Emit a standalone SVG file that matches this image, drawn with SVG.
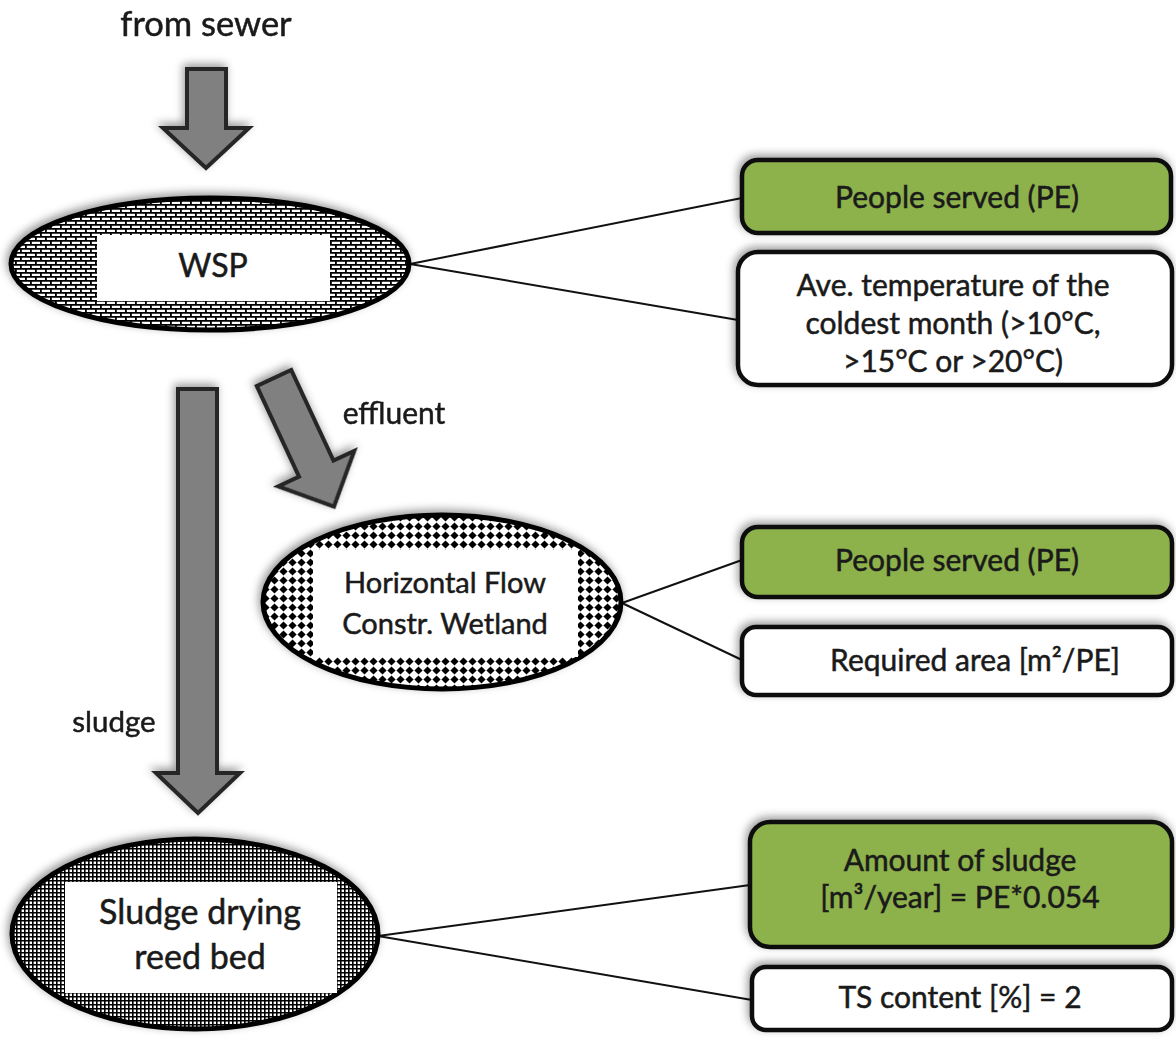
<svg xmlns="http://www.w3.org/2000/svg" width="1176" height="1039" viewBox="0 0 1176 1039">
  <defs>
    <style>
      .lbl { font-family: Lato, "Liberation Sans", sans-serif; fill: #1a1a1a; stroke: #1a1a1a; stroke-width: 0.5; text-anchor: middle; }
      .box-green { fill: #8db14b; stroke: #111; stroke-width: 4.5; }
      .box-white { fill: #fff; stroke: #111; stroke-width: 4.5; }
      .node-ring { stroke: #000; stroke-width: 5; }
      .arrow { fill: #808080; stroke: #262626; stroke-width: 4; stroke-linejoin: miter; }
      .link { stroke: #111; stroke-width: 2; fill: none; }
    </style>
    <filter id="shadow" x="-20%" y="-20%" width="140%" height="140%">
      <feGaussianBlur in="SourceAlpha" stdDeviation="4"/>
      <feOffset dx="-2" dy="-3" result="blur"/>
      <feFlood flood-color="#000" flood-opacity="0.4"/>
      <feComposite in2="blur" operator="in"/>
      <feMerge>
        <feMergeNode/>
        <feMergeNode in="SourceGraphic"/>
      </feMerge>
    </filter>
    <!-- brick fill -->
    <pattern id="brick" patternUnits="userSpaceOnUse" width="10" height="8">
      <rect width="10" height="8" fill="#fff"/>
      <path d="M0 0.9H10 M0 4.9H10 M0.9 0V4.9 M5.9 4.9V8" stroke="#000" stroke-width="1.8"/>
    </pattern>
    <!-- diamond dot fill -->
    <pattern id="dots" patternUnits="userSpaceOnUse" width="9" height="9">
      <rect width="9" height="9" fill="#fff"/>
      <path d="M4.5 0.4 L8.6 4.5 L4.5 8.6 L0.4 4.5 Z" fill="#000"/>
    </pattern>
    <!-- fine grid fill -->
    <pattern id="grid" patternUnits="userSpaceOnUse" width="4" height="4">
      <rect width="4" height="4" fill="#fff"/>
      <path d="M0 0.8H4 M0.8 0V4" stroke="#000" stroke-width="1.6"/>
    </pattern>
  </defs>

  <rect width="1176" height="1039" fill="#fff"/>

  <!-- connectors -->
  <g id="connectors">
    <line class="link" x1="410" y1="264" x2="742" y2="198"/>
    <line class="link" x1="410" y1="264" x2="738" y2="320"/>
    <line class="link" x1="622" y1="603" x2="742" y2="560"/>
    <line class="link" x1="622" y1="603" x2="742" y2="660"/>
    <line class="link" x1="378" y1="936" x2="750" y2="885"/>
    <line class="link" x1="378" y1="936" x2="752" y2="1000"/>

    <g filter="url(#shadow)">
      <!-- inflow arrow -->
      <path class="arrow" d="M187 69 H226 V128 H249 L206 168 L163 128 H187 Z"/>
      <!-- sludge arrow -->
      <path class="arrow" d="M178 389 H217 V773 H240 L198 813 L156 773 H178 Z"/>
      <!-- effluent arrow -->
      <path class="arrow" transform="translate(274 378) rotate(-25)" d="M-19 0 H19 V100 H42 L0 142 L-42 100 H-19 Z"/>
    </g>

    <text class="lbl" x="206" y="36" font-size="34.5">from sewer</text>
    <text class="lbl" x="394" y="424" font-size="30">effluent</text>
    <text class="lbl" x="114" y="732" font-size="29.5">sludge</text>
  </g>

  <!-- WSP -->
  <g id="wsp">
    <ellipse class="node-ring" cx="210" cy="264" rx="199" ry="66" fill="url(#brick)" filter="url(#shadow)"/>
    <rect x="97" y="235" width="233" height="66" fill="#fff"/>
    <text class="lbl" x="213" y="277" font-size="32">WSP</text>
  </g>

  <!-- Horizontal flow constructed wetland -->
  <g id="hfcw">
    <ellipse class="node-ring" cx="442" cy="602" rx="179" ry="87" fill="url(#dots)" filter="url(#shadow)"/>
    <rect x="313" y="550" width="265" height="107" fill="#fff"/>
    <text class="lbl" x="445" y="593" font-size="29">Horizontal Flow</text>
    <text class="lbl" x="445" y="634" font-size="29">Constr. Wetland</text>
  </g>

  <!-- Sludge drying reed bed -->
  <g id="sdrb">
    <ellipse class="node-ring" cx="195" cy="934" rx="183" ry="95" fill="url(#grid)" filter="url(#shadow)"/>
    <rect x="65" y="882" width="272" height="111" fill="#fff"/>
    <text class="lbl" x="200" y="924" font-size="34">Sludge drying</text>
    <text class="lbl" x="200" y="969" font-size="34">reed bed</text>
  </g>

  <!-- WSP parameters -->
  <g id="wsp-pe">
    <rect class="box-green" x="742" y="160" width="429" height="73" rx="16" filter="url(#shadow)"/>
    <text class="lbl" x="957" y="208" font-size="30">People served (PE)</text>
  </g>
  <g id="wsp-temp">
    <rect class="box-white" x="738" y="252" width="434" height="133" rx="20" filter="url(#shadow)"/>
    <text class="lbl" x="953" y="296" font-size="30">Ave. temperature of the</text>
    <text class="lbl" x="953" y="334" font-size="30">coldest month (&gt;10°C,</text>
    <text class="lbl" x="953" y="372" font-size="30">&gt;15°C or &gt;20°C)</text>
  </g>

  <!-- Wetland parameters -->
  <g id="hfcw-pe">
    <rect class="box-green" x="742" y="527" width="430" height="70" rx="16" filter="url(#shadow)"/>
    <text class="lbl" x="957" y="571" font-size="30">People served (PE)</text>
  </g>
  <g id="hfcw-area">
    <rect class="box-white" x="742" y="627" width="430" height="68" rx="14" filter="url(#shadow)"/>
    <text class="lbl" x="975" y="671" font-size="30">Required area [m²/PE]</text>
  </g>

  <!-- Reed bed parameters -->
  <g id="sdrb-amount">
    <rect class="box-green" x="750" y="822" width="422" height="125" rx="20" filter="url(#shadow)"/>
    <text class="lbl" x="960" y="871" font-size="30">Amount of sludge</text>
    <text class="lbl" x="960" y="908" font-size="30">[m³/year] = PE*0.054</text>
  </g>
  <g id="sdrb-ts">
    <rect class="box-white" x="752" y="967" width="420" height="63" rx="14" filter="url(#shadow)"/>
    <text class="lbl" x="960" y="1008" font-size="30">TS content [%] = 2</text>
  </g>
</svg>
